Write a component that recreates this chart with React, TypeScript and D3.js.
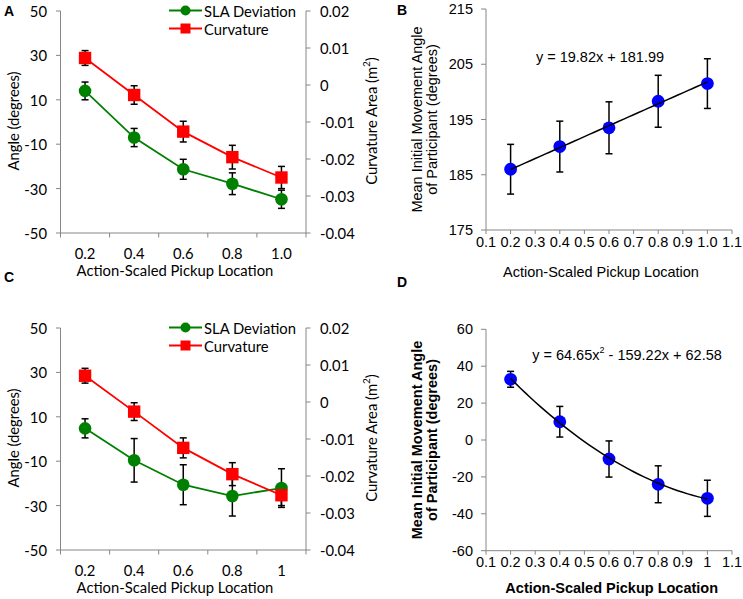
import React from 'react';
import * as d3 from 'd3';

// panel A / C data (SLA deviation on left axis, curvature on right axis)
const categoriesA = ['0.2', '0.4', '0.6', '0.8', '1.0'];
const categoriesC = ['0.2', '0.4', '0.6', '0.8', '1'];
const slaA = [14, -7, -21.3, -27.8, -34.8];
const slaErrA = [4, 4.1, 4.5, 4.9, 4.1];
const curvA = [0.0073, -0.0027, -0.0126, -0.0195, -0.025];
const curvErrA = [0.002, 0.0025, 0.0028, 0.0032, 0.003];
const slaC = [4.8, -9.6, -20.6, -25.7, -22.1];
const slaErrC = [4.3, 9.8, 9, 9, 8.7];
const curvC = [0.0071, -0.0026, -0.0124, -0.0195, -0.0252];
const curvErrC = [0.002, 0.0024, 0.0027, 0.0031, 0.0028];
const leftTicks = [-50, -30, -10, 10, 30, 50];
const rightTicks = [-0.04, -0.03, -0.02, -0.01, 0, 0.01, 0.02];

// panel B / D data
const pickup = [0.2, 0.4, 0.6, 0.8, 1.0];
const angleB = [186.0, 190.1, 193.5, 198.3, 201.5];
const errB = [4.5, 4.6, 4.7, 4.7, 4.5];
const angleD = [32.9, 9.9, -10.3, -24, -31.6];
const errD = [4.3, 8.3, 9.8, 10, 9.8];
const xTicksB = [0.1, 0.2, 0.3, 0.4, 0.5, 0.6, 0.7, 0.8, 0.9, 1.0, 1.1];
const xTickLabelsB = ['0.1', '0.2', '0.3', '0.4', '0.5', '0.6', '0.7', '0.8', '0.9', '1.0', '1.1'];
const xTickLabelsD = ['0.1', '0.2', '0.3', '0.4', '0.5', '0.6', '0.7', '0.8', '0.9', '1', '1.1'];
const yTicksB = [175, 185, 195, 205, 215];
const yTicksD = [-60, -40, -20, 0, 20, 40, 60];
const fitB = [19.82, 181.99];
const fitD = [64.65, -159.22, 62.58];

const AXIS = '#868686';
const CAL = 'Lato, Calibri, sans-serif';
const ARIAL = '"Liberation Sans", Arial, sans-serif';

function ErrBar({ x, y1, y2 }: { x: number; y1: number; y2: number }) {
  return (
    <g stroke="#000" strokeWidth={1.5}>
      <line x1={x} x2={x} y1={y1} y2={y2} />
      <line x1={x - 3.5} x2={x + 3.5} y1={y1} y2={y1} />
      <line x1={x - 3.5} x2={x + 3.5} y1={y2} y2={y2} />
    </g>
  );
}

function DualPanel({ dy, letter, cats, sla, slaErr, curv, curvErr }: any) {
  const top = 11 + dy;
  const bottom = 233 + dy;
  const x = d3.scaleBand<string>().domain(cats).range([60.5, 306]);
  const yL = d3.scaleLinear().domain([-50, 50]).range([bottom, top]);
  const yR = d3.scaleLinear().domain([-0.04, 0.02]).range([bottom, top]);
  const cx = (c: string) => (x(c) as number) + x.bandwidth() / 2;
  const slaLine = d3.line<number>().x((_, i) => cx(cats[i])).y((d) => yL(d));
  const curvLine = d3.line<number>().x((_, i) => cx(cats[i])).y((d) => yR(d));
  const bounds = [...cats.map((c: string) => x(c) as number), 306];
  const fmtR = (v: number) => (v === 0 ? '0' : v.toFixed(2));
  return (
    <g fontFamily={CAL} fontSize={14.8} fill="#000">
      {letter && (
        <text x={9} y={dy + 11} fontFamily={ARIAL} fontWeight="bold" fontSize={14} textAnchor="middle" dominantBaseline="central">
          {letter}
        </text>
      )}
      {/* axes */}
      <line x1={60.5} x2={60.5} y1={top} y2={bottom} stroke={AXIS} />
      <line x1={306} x2={306} y1={top} y2={bottom} stroke={AXIS} />
      <line x1={60.5} x2={306} y1={bottom} y2={bottom} stroke={AXIS} />
      {leftTicks.map((t) => (
        <g key={t}>
          <line x1={56} x2={60.5} y1={yL(t)} y2={yL(t)} stroke={AXIS} />
          <text x={47} y={yL(t)} textAnchor="end" dominantBaseline="central">{t}</text>
        </g>
      ))}
      {rightTicks.map((t) => (
        <g key={t}>
          <line x1={306} x2={310.5} y1={yR(t)} y2={yR(t)} stroke={AXIS} />
          <text x={320} y={yR(t)} dominantBaseline="central">{fmtR(t)}</text>
        </g>
      ))}
      {bounds.map((b: number, i: number) => (
        <line key={i} x1={b} x2={b} y1={bottom} y2={bottom + 4.5} stroke={AXIS} />
      ))}
      {cats.map((c: string) => (
        <text key={c} x={cx(c)} y={bottom + 19.5} textAnchor="middle" dominantBaseline="central">{c}</text>
      ))}
      <text x={175} y={bottom + 36.5} textAnchor="middle" dominantBaseline="central">Action-Scaled Pickup Location</text>
      <text transform={`translate(13,${dy + 121}) rotate(-90)`} textAnchor="middle" dominantBaseline="central">Angle (degrees)</text>
      <text transform={`translate(371,${dy + 121}) rotate(-90)`} textAnchor="middle" dominantBaseline="central">
        Curvature Area (m<tspan dy={-5} fontSize={10}>2</tspan><tspan dy={5}>)</tspan>
      </text>
      {/* error bars */}
      {sla.map((v: number, i: number) => (
        <ErrBar key={'s' + i} x={cx(cats[i])} y1={yL(v + slaErr[i])} y2={yL(v - slaErr[i])} />
      ))}
      {curv.map((v: number, i: number) => (
        <ErrBar key={'c' + i} x={cx(cats[i])} y1={yR(v + curvErr[i])} y2={yR(v - curvErr[i])} />
      ))}
      <path d={slaLine(sla) as string} fill="none" stroke="#008000" strokeWidth={1.8} />
      {sla.map((v: number, i: number) => (
        <circle key={i} cx={cx(cats[i])} cy={yL(v)} r={6.3} fill="#008000" />
      ))}
      <path d={curvLine(curv) as string} fill="none" stroke="#ff0000" strokeWidth={1.8} />
      {curv.map((v: number, i: number) => (
        <rect key={i} x={cx(cats[i]) - 6.2} y={yR(v) - 6.2} width={12.4} height={12.4} fill="#ff0000" />
      ))}
      {/* legend */}
      <g>
        <line x1={169} x2={202} y1={dy + 10.5} y2={dy + 10.5} stroke="#008000" strokeWidth={1.8} />
        <circle cx={185.5} cy={dy + 10.5} r={5} fill="#008000" />
        <text x={204} y={dy + 10.5} dominantBaseline="central">SLA Deviation</text>
        <line x1={169} x2={202} y1={dy + 28.5} y2={dy + 28.5} stroke="#ff0000" strokeWidth={1.8} />
        <rect x={180.5} y={dy + 23.5} width={10} height={10} fill="#ff0000" />
        <text x={204} y={dy + 28.5} dominantBaseline="central">Curvature</text>
      </g>
    </g>
  );
}

function ScatterPanel({ letter, letterY, top, bottom, yDomain, yTicks, xLabels, ys, errs, fit, bold, titleX, titleDy, eqY, eqX, eq }: any) {
  const x = d3.scaleLinear().domain([0.1, 1.1]).range([486, 732]);
  const y = d3.scaleLinear().domain(yDomain).range([bottom, top]);
  const fx = (v: number) => fit.reduce((acc: number, c: number) => acc * v + c, 0);
  const curve = d3.line<number>().x((v) => x(v)).y((v) => y(fx(v)));
  const samples = d3.range(0.2, 1.0001, 0.02);
  const fw = bold ? 'bold' : 'normal';
  return (
    <g fontFamily={ARIAL} fontSize={14.5} fill="#000">
      <text x={402} y={letterY} fontWeight="bold" fontSize={14} textAnchor="middle" dominantBaseline="central">{letter}</text>
      <line x1={486} x2={486} y1={top} y2={bottom} stroke={AXIS} />
      <line x1={486} x2={732} y1={bottom} y2={bottom} stroke={AXIS} />
      {yTicks.map((t: number) => (
        <g key={t}>
          <line x1={481} x2={486} y1={y(t)} y2={y(t)} stroke={AXIS} />
          <text x={473} y={y(t)} textAnchor="end" dominantBaseline="central">{t}</text>
        </g>
      ))}
      {xTicksB.map((t, i) => (
        <g key={t}>
          <line x1={x(t)} x2={x(t)} y1={bottom} y2={bottom + 4} stroke={AXIS} />
          <text x={x(t)} y={bottom + 11.5} textAnchor="middle" dominantBaseline="central">{xLabels[i]}</text>
        </g>
      ))}
      <text x={titleX} y={bottom + titleDy} fontWeight={fw} textAnchor="middle" dominantBaseline="central">
        Action-Scaled Pickup Location
      </text>
      <text transform={`translate(417,${(top + bottom) / 2}) rotate(-90)`} fontWeight={fw} textAnchor="middle" dominantBaseline="central">
        Mean Initial Movement Angle
      </text>
      <text transform={`translate(431.5,${(top + bottom) / 2}) rotate(-90)`} fontWeight={fw} textAnchor="middle" dominantBaseline="central">
        of Participant (degrees)
      </text>
      {pickup.map((p, i) => (
        <ErrBar key={i} x={x(p)} y1={y(ys[i] + errs[i])} y2={y(ys[i] - errs[i])} />
      ))}
      {pickup.map((p, i) => (
        <circle key={i} cx={x(p)} cy={y(ys[i])} r={6.4} fill="#0000ff" />
      ))}
      <path d={curve(samples) as string} fill="none" stroke="#000" strokeWidth={1.5} />
      <text x={eqX} y={eqY} textAnchor="middle" dominantBaseline="central">{eq}</text>
    </g>
  );
}

export default function App() {
  return (
    <svg width={743} height={599} style={{ position: 'absolute', left: 0, top: 0, background: '#fff' }}>
      <rect width={743} height={599} fill="#fff" />
      <DualPanel dy={0} letter="A" cats={categoriesA} sla={slaA} slaErr={slaErrA} curv={curvA} curvErr={curvErrA} />
      <text x={9} y={277} fontFamily={ARIAL} fontWeight="bold" fontSize={14} textAnchor="middle" dominantBaseline="central">C</text>
      <DualPanel dy={317} letter="" cats={categoriesC} sla={slaC} slaErr={slaErrC} curv={curvC} curvErr={curvErrC} />
      <ScatterPanel
        letter="B" letterY={10} top={9} bottom={230} yDomain={[175, 215]} yTicks={yTicksB}
        xLabels={xTickLabelsB} ys={angleB} errs={errB} fit={fitB} bold={false}
        titleX={601} titleDy={41.7}
        eqX={600} eqY={57} eq="y = 19.82x + 181.99"
      />
      <ScatterPanel
        letter="D" letterY={282} top={329.3} bottom={550.7} yDomain={[-60, 60]} yTicks={yTicksD}
        xLabels={xTickLabelsD} ys={angleD} errs={errD} fit={fitD} bold={true}
        titleX={611.7} titleDy={37.6}
        eqX={627} eqY={355}
        eq={<>y = 64.65x<tspan dy={-5} fontSize={9}>2</tspan><tspan dy={5}> - 159.22x + 62.58</tspan></>}
      />
    </svg>
  );
}
